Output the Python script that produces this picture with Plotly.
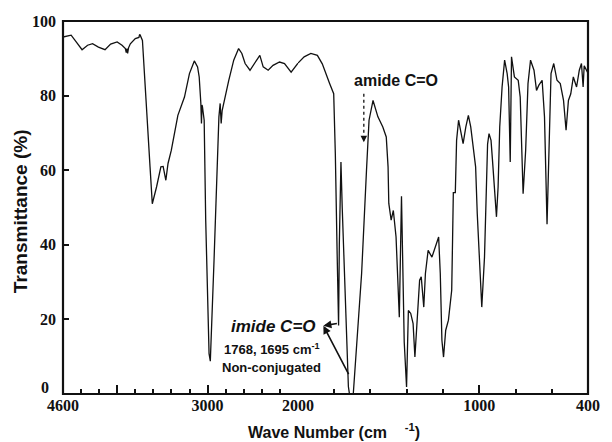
import plotly.graph_objects as go

# ---- data: wavenumber (cm-1) and transmittance (%) ----
WN_HIGH = [4600, 4510, 4454, 4389, 4328, 4273, 4208, 4135, 4073, 4001, 3947, 3910, 3900, 3892,
           3885, 3875, 3855, 3800, 3760, 3752, 3746, 3721, 3699, 3681, 3637, 3612, 3565, 3517,
           3492, 3462, 3438, 3402, 3329, 3256, 3201, 3147, 3111, 3093, 3075, 3068, 3062, 3057,
           3038, 3021, 2984, 2970, 2929, 2904, 2875, 2861, 2850, 2839, 2822, 2803, 2766, 2711,
           2657, 2621, 2585, 2531, 2476, 2422, 2385, 2330, 2276, 2204, 2149, 2076, 2000]
T_HIGH = [95.7, 96.2, 94.4, 92.3, 93.5, 93.9, 93.0, 92.3, 93.8, 94.4, 93.5, 92.6, 91.5, 92.6,
          91.3, 92.8, 93.9, 95.3, 95.6, 96.4, 96.2, 94.8, 86.8, 78.7, 60.9, 51.0, 55.5, 60.9,
          61.0, 57.3, 61.8, 65.3, 74.7, 79.6, 85.9, 89.3, 87.7, 85.0, 78.0, 72.5, 77.5, 77.0,
          73.4, 46.6, 10.8, 8.8, 35.8, 55.5, 74.3, 77.9, 72.5, 76.0, 78.0, 79.6, 84.1, 89.5,
          92.6, 91.3, 88.6, 86.8, 89.0, 90.8, 87.7, 86.8, 88.1, 89.0, 88.6, 86.3, 88.7]

WN_LOW = [2000, 1966, 1929, 1893, 1866, 1852, 1825, 1803, 1794, 1784, 1776, 1772, 1763, 1756,
          1740, 1722, 1710, 1699, 1695, 1676, 1649, 1622, 1608, 1586, 1559, 1532, 1513, 1503,
          1499, 1486, 1474, 1459, 1445, 1441, 1429, 1414, 1401, 1391, 1378, 1365, 1355, 1342,
          1329, 1320, 1306, 1297, 1282, 1261, 1242, 1224, 1215, 1206, 1197, 1185, 1170, 1152,
          1147, 1143, 1132, 1125, 1114, 1101, 1089, 1074, 1060, 1047, 1035, 1020, 1011, 999,
          986, 971, 962, 954, 946, 935, 927, 914, 905, 896, 887, 874, 860, 846, 838, 829, 822,
          806, 785, 774, 767, 758, 744, 731, 717, 698, 684, 671, 653, 640, 626, 617, 604, 589,
          571, 553, 535, 521, 508, 495, 481, 463, 448, 436, 427, 421, 400]
T_LOW = [88.7, 90.4, 91.3, 90.8, 88.5, 86.5, 83.2, 80.5, 64.4, 37.6, 18.4, 40.0, 62.2, 50.0,
         28.7, 2.0, -2.0, -2.0, 0.0, 14.4, 32.3, 60.0, 73.4, 78.7, 74.3, 71.6, 68.9, 60.9,
         51.1, 46.6, 49.2, 42.1, 22.4, 20.6, 53.0, 14.0, 1.9, 22.4, 21.6, 18.9, 9.9, 18.9,
         30.5, 31.4, 23.3, 32.3, 38.5, 36.7, 39.4, 42.1, 32.3, 14.4, 9.9, 17.1, 19.8, 27.8,
         41.8, 54.0, 54.0, 68.0, 73.4, 69.8, 67.1, 71.6, 74.7, 71.6, 66.2, 60.9, 48.4, 36.7,
         23.3, 36.7, 55.0, 67.0, 69.8, 68.0, 62.7, 52.8, 47.5, 55.5, 71.6, 82.3, 89.5, 85.9,
         82.3, 62.2, 90.4, 85.0, 84.1, 79.6, 65.3, 53.7, 65.3, 83.2, 89.5, 86.8, 81.4, 82.8,
         84.1, 74.3, 45.5, 65.3, 85.9, 88.6, 84.1, 83.2, 78.7, 70.7, 78.7, 80.5, 85.0, 82.3,
         86.8, 88.6, 82.3, 88.0, 86.0]

X_TICKS_HIGH = [4600, 4000, 3000]
X_TICKTEXT_HIGH = ["4600", "", "3000"]
X_TICKS_LOW = [2000, 1000, 400]
X_TICKTEXT_LOW = ["2000", "1000", "400"]
Y_TICKS = [0, 20, 40, 60, 80, 100]
Y_TICKTEXT = ["", "20", "40", "60", "80", "100"]   # "0" drawn raised, as in the original

SPLIT = 0.4476  # axis scale changes at 2000 cm-1

line_style = dict(color="#111111", width=1.3)

fig = go.Figure()
fig.add_trace(go.Scatter(x=WN_HIGH, y=T_HIGH, mode="lines", line=line_style,
                         xaxis="x", yaxis="y", showlegend=False))
fig.add_trace(go.Scatter(x=WN_LOW, y=T_LOW, mode="lines", line=line_style,
                         xaxis="x2", yaxis="y", showlegend=False))

tick_font = dict(family="Liberation Serif, Times New Roman, serif", size=16,
                 color="#111111", weight="bold")
common_x = dict(showgrid=False, zeroline=False, showline=False, ticks="inside",
                ticklen=9, tickwidth=1.5, tickcolor="#111111", tickfont=tick_font,
                ticklabelstandoff=0,
                minor=dict(dtick=200, tick0=0, ticks="inside", ticklen=5,
                           tickwidth=1.5, tickcolor="#111111"))

fig.update_layout(
    width=612, height=442,
    margin=dict(l=63, r=15, t=21, b=48),
    paper_bgcolor="white", plot_bgcolor="white",
    xaxis=dict(domain=[0, SPLIT], range=[4600, 2000], anchor="y",
               tickmode="array", tickvals=X_TICKS_HIGH, ticktext=X_TICKTEXT_HIGH, **common_x),
    xaxis2=dict(domain=[SPLIT, 1], range=[2000, 400], anchor="y",
                tickmode="array", tickvals=X_TICKS_LOW, ticktext=X_TICKTEXT_LOW, **common_x),
    yaxis=dict(range=[0, 100], tickmode="array", tickvals=Y_TICKS, ticktext=Y_TICKTEXT,
               showgrid=False, zeroline=False, showline=False, ticks="inside", ticklen=6,
               tickwidth=1.5, tickcolor="#111111", tickfont=tick_font, anchor="x",
               ticklabelstandoff=6),
)

# plot frame
fig.add_shape(type="rect", xref="paper", yref="paper", x0=0, x1=1, y0=0, y1=1,
              line=dict(color="#111111", width=2.2), fillcolor="rgba(0,0,0,0)")

# raised "0" label on the y axis
fig.add_annotation(xref="paper", yref="y", x=-0.022, y=1.8, text="0", showarrow=False,
                   xanchor="right", yanchor="middle", font=tick_font)

sans_b = dict(family="Liberation Sans", color="#111111", weight="bold")

# axis titles
fig.add_annotation(xref="paper", yref="paper", x=-0.082, y=0.49, textangle=-90,
                   text="Transmittance (%)", showarrow=False,
                   font=dict(size=19, **sans_b), xanchor="center", yanchor="middle")
fig.add_annotation(xref="paper", yref="paper", x=0.517, y=-0.1,
                   text="Wave Number (cm\u00a0\u00a0\u00a0\u00a0<sup>-1</sup>)", showarrow=False,
                   font=dict(size=16, **sans_b), xanchor="center", yanchor="middle")

# amide label with dotted arrow
fig.add_annotation(xref="paper", yref="y", x=0.634, y=84.0, text="amide C=O",
                   showarrow=False, font=dict(size=16, **sans_b))
fig.add_shape(type="line", xref="paper", yref="y", x0=0.573, x1=0.573, y0=80.5, y1=69.5,
              line=dict(color="#111111", width=1.3, dash="dot"))
fig.add_annotation(xref="paper", yref="y", x=0.573, y=67.5, text="", showarrow=True,
                   ax=0, ay=-7, arrowhead=2, arrowsize=1, arrowwidth=1.3,
                   arrowcolor="#111111")

# imide labels
fig.add_annotation(xref="paper", yref="y", x=0.401, y=18.2,
                   text="<i>imide C=O</i>", showarrow=False,
                   font=dict(size=17, **sans_b))
fig.add_annotation(xref="paper", yref="y", x=0.398, y=12.0,
                   text="1768, 1695 cm<sup>-1</sup>", showarrow=False,
                   font=dict(size=13, **sans_b))
fig.add_annotation(xref="paper", yref="y", x=0.397, y=7.0,
                   text="Non-conjugated", showarrow=False,
                   font=dict(size=13, **sans_b))
for ax_off, ay_off in [(15, -2.5), (26, 50)]:
    fig.add_annotation(xref="paper", yref="y", x=0.496, y=18.3, text="", showarrow=True,
                       ax=ax_off, ay=ay_off, arrowhead=2, arrowsize=1, arrowwidth=1.6,
                       arrowcolor="#111111", standoff=0)

fig.write_html("out.html", config={"displayModeBar": False},
               post_script="document.body.style.margin='0';")
